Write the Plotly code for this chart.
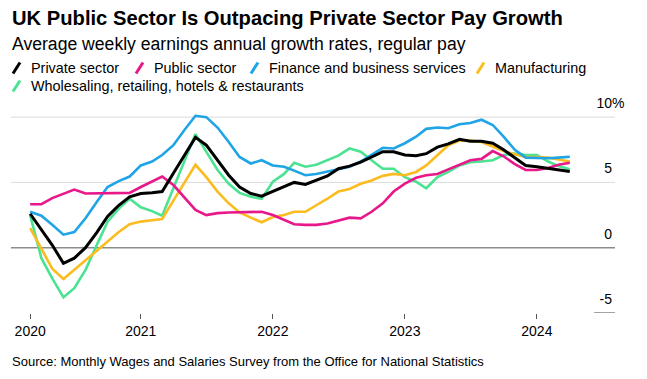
import pandas as pd
import plotly.graph_objects as go

# ---- data (monthly, Mar 2020 - Apr 2024) ----
months = pd.date_range("2020-03-01", periods=50, freq="MS")

private_sector = [2.6, 1.4, 0.2, -1.2, -0.8, 0.0, 1.15, 2.4, 3.25, 3.9,
                  4.15, 4.2, 4.3, 5.7, 7.1, 8.45, 7.85, 6.7, 5.55, 4.65,
                  4.15, 3.95, 4.3, 4.65, 5.0, 4.85, 5.15, 5.5, 6.05, 6.25,
                  6.55, 6.95, 7.35, 7.35, 7.1, 7.05, 7.2, 7.7, 7.95, 8.3,
                  8.15, 8.15, 8.0, 7.5, 6.9, 6.3, 6.2, 6.08, 6.0, 5.83]
public_sector = [3.33, 3.33, 3.8, 4.15, 4.45, 4.15, 4.15, 4.15, 4.2, 4.2,
                 4.65, 5.1, 5.45, 4.8, 3.9, 2.9, 2.5, 2.65, 2.7, 2.7,
                 2.7, 2.75, 2.5, 2.15, 1.8, 1.75, 1.75, 1.85, 2.1, 2.3,
                 2.25, 2.75, 3.4, 4.3, 4.9, 5.35, 5.55, 5.65, 6.0, 6.35,
                 6.7, 6.8, 7.4, 7.0, 6.4, 5.95, 5.95, 6.1, 6.35, 6.5]
finance = [2.75, 2.45, 1.75, 1.0, 1.2, 2.25, 3.5, 4.65, 5.1, 5.45,
           6.3, 6.6, 7.1, 7.85, 9.0, 10.1, 10.0, 9.2, 8.1, 6.95,
           6.45, 6.7, 6.3, 6.2, 5.9, 5.55, 5.65, 5.85, 6.0, 6.2,
           6.6, 7.1, 7.65, 7.6, 8.0, 8.5, 9.1, 9.2, 9.15, 9.45,
           9.55, 9.8, 9.4, 8.5, 7.5, 6.9, 6.85, 6.85, 6.9, 6.97]
manufacturing = [1.5, -0.05, -1.6, -2.4, -1.7, -0.95, -0.2, 0.5, 1.2, 1.8,
                 2.0, 2.1, 2.2, 3.6, 5.0, 6.35, 5.4, 4.3, 3.4, 2.7,
                 2.3, 1.95, 2.35, 2.5, 2.75, 2.75, 3.25, 3.75, 4.3, 4.5,
                 4.9, 5.15, 5.5, 5.65, 5.55, 5.8, 6.3, 7.05, 7.85, 8.2,
                 8.2, 8.1, 7.75, 7.4, 7.15, 6.95, 6.95, 6.9, 6.75, 6.6]
wholesaling = [2.5, -0.8, -2.35, -3.8, -3.1, -1.7, 0.2, 2.0, 3.0, 3.75,
               3.1, 2.8, 2.45, 4.5, 6.6, 8.7, 7.35, 5.95, 4.9, 4.2,
               3.9, 3.75, 5.05, 5.65, 6.5, 6.2, 6.35, 6.7, 7.05, 7.6,
               7.35, 6.7, 6.05, 6.05, 5.4, 5.05, 4.55, 5.4, 5.8, 6.3,
               6.55, 6.6, 6.7, 7.1, 7.2, 7.1, 7.1, 6.6, 6.25, 6.0]

series_names = ["Private sector", "Public sector", "Finance and business services",
                "Manufacturing", "Wholesaling, retailing, hotels & restaurants"]
series_values = [private_sector, public_sector, finance, manufacturing, wholesaling]
series_colors = ["#000000", "#e8178a", "#1fa4e6", "#fbbc1f", "#4be391"]

x_tick_vals = ["2020-03-01", "2021-01-01", "2022-01-01", "2023-01-01", "2024-01-01"]
x_tick_text = ["2020", "2021", "2022", "2023", "2024"]
y_tick_vals = [-5, 0, 5, 10]
y_tick_text = ["-5", "0", "5", "10"]

# ---- layout geometry (page offset 8px from default body margin) ----
OFF = 8
W, H = 647, 379
L = 11 - OFF             # plot left in figure px
R = W - (615 - OFF)      # plot right edge at page x=615
T = 91 - OFF             # plot top at page y=91 (y=12)
B = H - (313 - OFF)      # plot bottom at page y=313 (y=-5)
PW, PH = W - L - R, H - T - B


def px(xp):
    return (xp - OFF - L) / PW


def py(yp):
    return (H - B - (yp - OFF)) / PH


FONT = "Liberation Sans, Arial, sans-serif"

fig = go.Figure()
order = [4, 3, 2, 1, 0]
for k in order:
    fig.add_trace(go.Scatter(
        x=months, y=series_values[k], mode="lines", name=series_names[k],
        line=dict(color=series_colors[k], width=3 if k == 0 else 2.6),
        showlegend=False,
    ))

shapes = []
for yv, col, wd in [(10, "#dcdcdc", 1), (5, "#dcdcdc", 1), (0, "#8c8c8c", 1.6)]:
    shapes.append(dict(type="line", xref="paper", yref="y", x0=0, x1=1, y0=yv, y1=yv,
                       line=dict(color=col, width=wd), layer="below"))
shapes.append(dict(type="line", xref="paper", yref="y", x0=px(594), x1=1, y0=-5, y1=-5,
                   line=dict(color="#8c8c8c", width=1.6), layer="below"))

annotations = []
legend_pos = [(12, 68), (135, 68), (250, 68), (476, 68), (12, 86)]
for k, (lx, ly) in enumerate(legend_pos):
    shapes.append(dict(type="line", xref="paper", yref="paper",
                       x0=px(lx + 1), y0=py(ly + 5.5), x1=px(lx + 8), y1=py(ly - 5.5),
                       line=dict(color=series_colors[k], width=3)))
    annotations.append(dict(text=series_names[k], xref="paper", yref="paper",
                            x=px(lx + 17), y=py(ly), xanchor="left", yanchor="middle",
                            showarrow=False, font=dict(family=FONT, size=14.4, color="#000")))

annotations.append(dict(text="<b>UK Public Sector Is Outpacing Private Sector Pay Growth</b>",
                        xref="paper", yref="paper", x=px(10), y=py(18), xanchor="left",
                        yanchor="middle", showarrow=False,
                        font=dict(family=FONT, size=20.2, color="#000")))
annotations.append(dict(text="Average weekly earnings annual growth rates, regular pay",
                        xref="paper", yref="paper", x=px(10), y=py(44), xanchor="left",
                        yanchor="middle", showarrow=False,
                        font=dict(family=FONT, size=17.6, color="#000")))
annotations.append(dict(text="Source: Monthly Wages and Salaries Survey from the Office for National Statistics",
                        xref="paper", yref="paper", x=px(10), y=py(361), xanchor="left",
                        yanchor="middle", showarrow=False,
                        font=dict(family=FONT, size=13, color="#000")))
annotations.append(dict(text="%", xref="paper", yref="y", x=1, y=10, xanchor="left",
                        yanchor="middle", yshift=14, xshift=-5, showarrow=False,
                        font=dict(family=FONT, size=14, color="#000")))

fig.update_layout(
    width=W, height=H,
    margin=dict(l=L, r=R, t=T, b=B, autoexpand=False),
    paper_bgcolor="white", plot_bgcolor="white",
    shapes=shapes, annotations=annotations,
    xaxis=dict(type="date", range=["2020-01-08", "2024-08-04"],
               tickvals=x_tick_vals, ticktext=x_tick_text, automargin=False,
               ticks="outside", ticklen=5, tickcolor="#555", tickwidth=1,
               showgrid=False, zeroline=False, showline=False,
               tickfont=dict(family=FONT, size=14, color="#000")),
    yaxis=dict(range=[-5, 12], tickvals=y_tick_vals, ticktext=y_tick_text,
               side="right", ticklabelposition="inside", ticks="", automargin=False,
               showgrid=False, zeroline=False, showline=False,
               ticklabelshift=-14, ticklabelstandoff=0,
               tickfont=dict(family=FONT, size=14, color="#000")),
)

fig.write_html("out.html")
